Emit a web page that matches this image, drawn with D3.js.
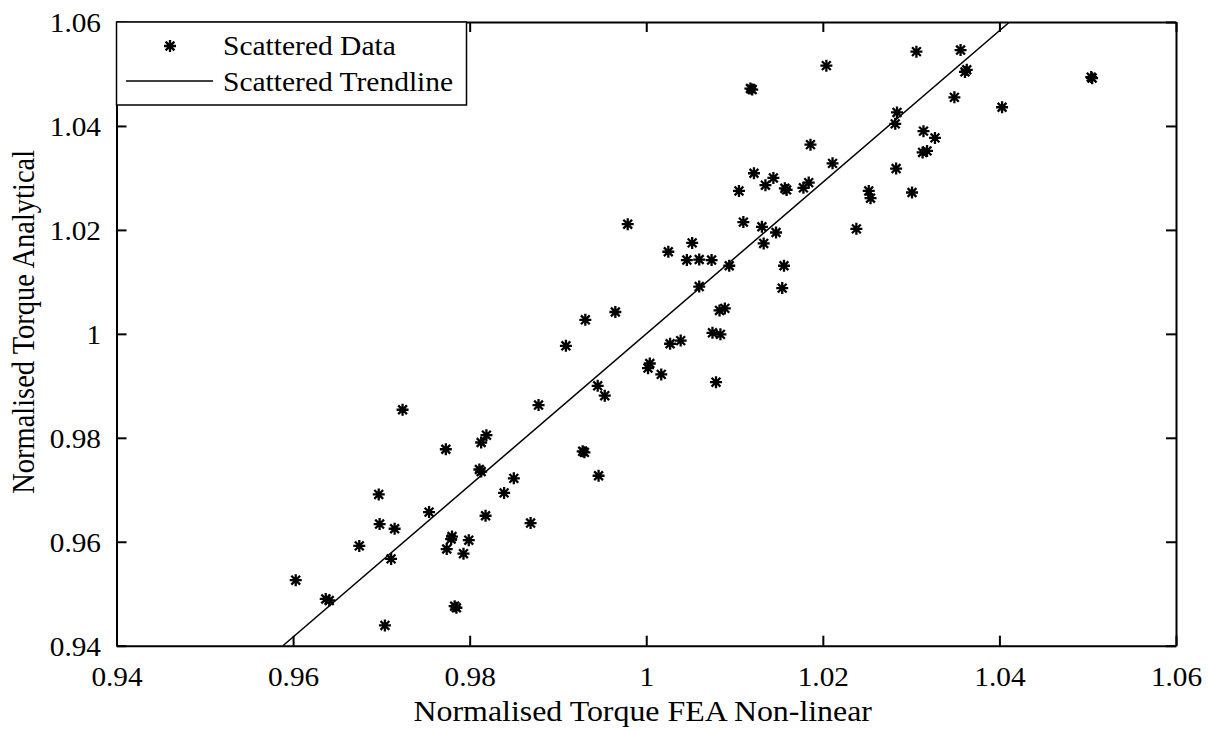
<!DOCTYPE html>
<html>
<head>
<meta charset="utf-8">
<script src="https://cdn.jsdelivr.net/npm/d3@7"></script>
<style>
  html, body { margin: 0; padding: 0; background: #fff; }
  svg { display: block; }
  text { font-family: "Liberation Serif", "Times New Roman", serif; fill: #000; }
</style>
</head>
<body>
<svg id="chart" width="1208" height="731"></svg>
<script>
// Normalised torque: FEA non-linear (x) vs analytical (y)
const fea = [
  0.9724, 0.9878, 0.9773, 0.9813, 0.9819, 0.9811, 0.9813, 0.9850, 0.9839, 0.9818,
  0.9869, 0.9697, 0.9754, 0.9698, 0.9715, 0.9675, 0.9711, 0.9780, 0.9779, 0.9774,
  0.9799, 0.9793, 0.9603, 0.9637, 0.9641, 0.9783, 0.9785, 0.9704,
  0.9979, 1.0025, 1.0052, 1.0046, 1.0060, 1.0074, 1.0110, 1.0131, 1.0147, 1.0133,
  1.0094, 1.0156, 1.0154, 1.0060, 1.0083, 1.0089, 1.0075, 1.0084, 0.9965, 0.9931,
  0.9909, 1.0039, 1.0027, 1.0004, 1.0002, 1.0017, 1.0079, 0.9945, 0.9953,
  1.0204, 1.0306, 1.0356, 1.0363, 1.0361, 1.0504, 1.0505, 1.0349, 1.0403, 1.0284,
  1.0282, 1.0314, 1.0327, 1.0186, 1.0313, 1.0318, 1.0211, 1.0283, 1.0184, 1.0178,
  1.0252, 1.0254, 1.0301, 1.0238,
  1.0118, 1.0120, 1.0122, 1.0105, 1.0135, 1.0144, 1.0157, 1.0159,
  0.9928, 0.9930, 0.9946
];
const analytical = [
  0.9854, 0.9863, 0.9778, 0.9791, 0.9805, 0.9739, 0.9735, 0.9722, 0.9694, 0.9650,
  0.9636, 0.9691, 0.9657, 0.9634, 0.9625, 0.9592, 0.9567, 0.9610, 0.9605, 0.9586,
  0.9603, 0.9577, 0.9526, 0.9490, 0.9487, 0.9476, 0.9473, 0.9439,
  1.0211, 1.0158, 1.0175, 1.0142, 1.0143, 1.0142, 1.0215, 1.0206, 1.0195, 1.0174,
  1.0131, 1.0131, 1.0088, 1.0091, 1.0045, 1.0049, 1.0002, 0.9999, 1.0042, 1.0027,
  0.9977, 0.9987, 0.9981, 0.9943, 0.9934, 0.9922, 0.9907, 0.9900, 0.9881,
  1.0516, 1.0543, 1.0546, 1.0508, 1.0504, 1.0494, 1.0492, 1.0455, 1.0436, 1.0426,
  1.0404, 1.0390, 1.0377, 1.0364, 1.0349, 1.0352, 1.0328, 1.0318, 1.0291, 1.0281,
  1.0275, 1.0261, 1.0272, 1.0202,
  1.0472, 1.0470, 1.0309, 1.0275, 1.0286, 1.0300, 1.0280, 1.0277,
  0.9774, 0.9772, 0.9727
];

// Linear trendline: analytical = slope * fea + intercept
const trendSlope = 1.458;
const trendIntercept = -0.458;

const xTicks = [0.94, 0.96, 0.98, 1.00, 1.02, 1.04, 1.06];
const yTicks = [0.94, 0.96, 0.98, 1.00, 1.02, 1.04, 1.06];
const tickLabels = ["0.94", "0.96", "0.98", "1", "1.02", "1.04", "1.06"];

const xTitle = "Normalised Torque FEA Non-linear";
const yTitle = "Normalised Torque Analytical";
const legendLabels = ["Scattered Data", "Scattered Trendline"];

// ---- layout ----
const plotL = 116.5, plotR = 1176, plotT = 22, plotB = 645.7;
const stretch = 1.085;   // horizontal widening of glyphs
const tickFont = 27, titleFont = 29.4, yTitleFont = 28.5, legendFont = 27.2;

const svg = d3.select("#chart");
const x = d3.scaleLinear().domain([0.94, 1.06]).range([plotL, plotR]);
const y = d3.scaleLinear().domain([0.94, 1.06]).range([plotB, plotT]);
const fmt = v => tickLabels[xTicks.findIndex(t => Math.abs(t - v) < 1e-9)];

svg.append("defs").append("clipPath").attr("id", "plotClip")
  .append("rect").attr("x", plotL).attr("y", plotT)
  .attr("width", plotR - plotL).attr("height", plotB - plotT);

// trendline
const ty = [0.94, 1.06];
const tx = ty.map(v => (v - trendIntercept) / trendSlope);
svg.append("line")
  .attr("clip-path", "url(#plotClip)")
  .attr("x1", x(tx[0])).attr("y1", y(ty[0]))
  .attr("x2", x(tx[1])).attr("y2", y(ty[1]))
  .attr("stroke", "#000").attr("stroke-width", 1.5);

// asterisk markers
const star = "M-6,0H6M0,-6V6M-4.4,-4.4L4.4,4.4M-4.4,4.4L4.4,-4.4";
svg.append("g").selectAll("path")
  .data(d3.range(fea.length))
  .join("path")
  .attr("transform", i => `translate(${x(fea[i])},${y(analytical[i])})`)
  .attr("d", star)
  .attr("fill", "none").attr("stroke", "#000").attr("stroke-width", 2.3);

// axes with inward ticks
function styleAxis(g) {
  g.attr("font-family", null);
  g.selectAll(".domain").attr("stroke", "#000").attr("stroke-width", 2);
  g.selectAll(".tick line").attr("stroke", "#000").attr("stroke-width", 2);
}
const gx = svg.append("g").attr("transform", `translate(0,${plotB})`)
  .call(d3.axisBottom(x).tickValues(xTicks).tickFormat(fmt).tickSizeInner(-10).tickSizeOuter(0))
  .call(styleAxis);
gx.selectAll(".tick text")
  .attr("y", 40).attr("dy", null)
  .attr("transform", `scale(${stretch},1)`)
  .style("font-size", tickFont + "px");

const gy = svg.append("g").attr("transform", `translate(${plotL},0)`)
  .call(d3.axisLeft(y).tickValues(yTicks).tickFormat(fmt).tickSizeInner(-10).tickSizeOuter(0))
  .call(styleAxis);
gy.selectAll(".tick text")
  .attr("x", -15.5 / stretch).attr("dy", "0.36em")
  .attr("transform", `scale(${stretch},1)`)
  .style("font-size", tickFont + "px");

svg.append("g").attr("transform", `translate(0,${plotT})`)
  .call(d3.axisTop(x).tickValues(xTicks).tickFormat("").tickSizeInner(-10).tickSizeOuter(0))
  .call(styleAxis);
svg.append("g").attr("transform", `translate(${plotR},0)`)
  .call(d3.axisRight(y).tickValues(yTicks).tickFormat("").tickSizeInner(-10).tickSizeOuter(0))
  .call(styleAxis);

// axis titles
svg.append("text")
  .attr("transform", `translate(${(plotL + plotR) / 2 - 3.5},721) scale(${stretch},1)`)
  .attr("text-anchor", "middle")
  .style("font-size", titleFont + "px")
  .text(xTitle);
svg.append("text")
  .attr("transform", `translate(34,${(plotT + plotB) / 2 - 12}) scale(${stretch},1) rotate(-90)`)
  .attr("text-anchor", "middle")
  .style("font-size", yTitleFont + "px")
  .text(yTitle);

// legend
const lg = svg.append("g");
lg.append("rect")
  .attr("x", plotL).attr("y", plotT).attr("width", 350).attr("height", 83)
  .attr("fill", "#fff").attr("stroke", "#000").attr("stroke-width", 1.5);
lg.append("path").attr("transform", "translate(170,46)").attr("d", star)
  .attr("fill", "none").attr("stroke", "#000").attr("stroke-width", 2.3);
lg.append("line").attr("x1", 126).attr("x2", 213).attr("y1", 81).attr("y2", 81)
  .attr("stroke", "#000").attr("stroke-width", 1.5);
legendLabels.forEach((t, i) => {
  lg.append("text")
    .attr("transform", `translate(223,${55 + i * 35.7}) scale(${stretch},1)`)
    .style("font-size", legendFont + "px")
    .text(t);
});
</script>
</body>
</html>
